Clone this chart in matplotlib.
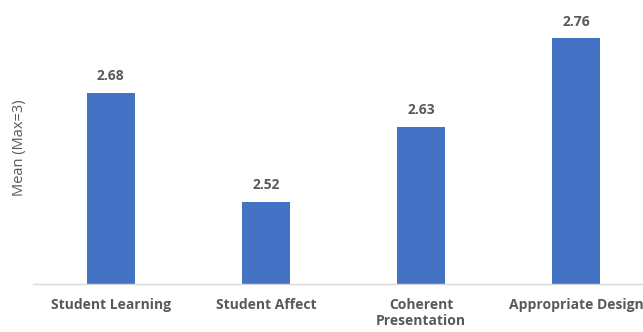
import matplotlib
matplotlib.use("Agg")
import matplotlib.pyplot as plt

categories = ["Student Learning", "Student Affect", "Coherent\nPresentation", "Appropriate Design"]
means = [2.68, 2.52, 2.63, 2.76]

bar_color = "#4472C4"
text_color = "#595959"

plt.rcParams['font.family'] = ['Open Sans', 'DejaVu Sans']

fig = plt.figure(figsize=(6.43, 3.32), dpi=100)
ax = fig.add_axes([33 / 643, 48 / 332, 621 / 643, 273 / 332])

x = list(range(len(categories)))
bars = ax.bar(x, means, width=0.31, color=bar_color)

for rect, v in zip(bars, means):
    ax.annotate(f"{v:.2f}", (rect.get_x() + rect.get_width() / 2, v),
                xytext=(0, 7), textcoords="offset points",
                ha="center", va="bottom", fontsize=10, fontweight="bold",
                color=text_color)

ax.set_xlim(-0.5, 3.5)
ax.set_ylim(2.4, 2.8)
ax.set_xticks(x)
ax.set_xticklabels(categories, fontsize=10, fontweight="bold", color=text_color,
                   linespacing=1.15)
ax.tick_params(axis="x", length=0, pad=10)
ax.set_yticks([])
ax.set_ylabel("Mean (Max=3)", fontsize=10.5, color=text_color, labelpad=4)

for side in ["top", "right", "left"]:
    ax.spines[side].set_visible(False)
ax.spines["bottom"].set_color("#D9D9D9")
ax.spines["bottom"].set_linewidth(1.0)

fig.savefig("out.png", dpi=100)
